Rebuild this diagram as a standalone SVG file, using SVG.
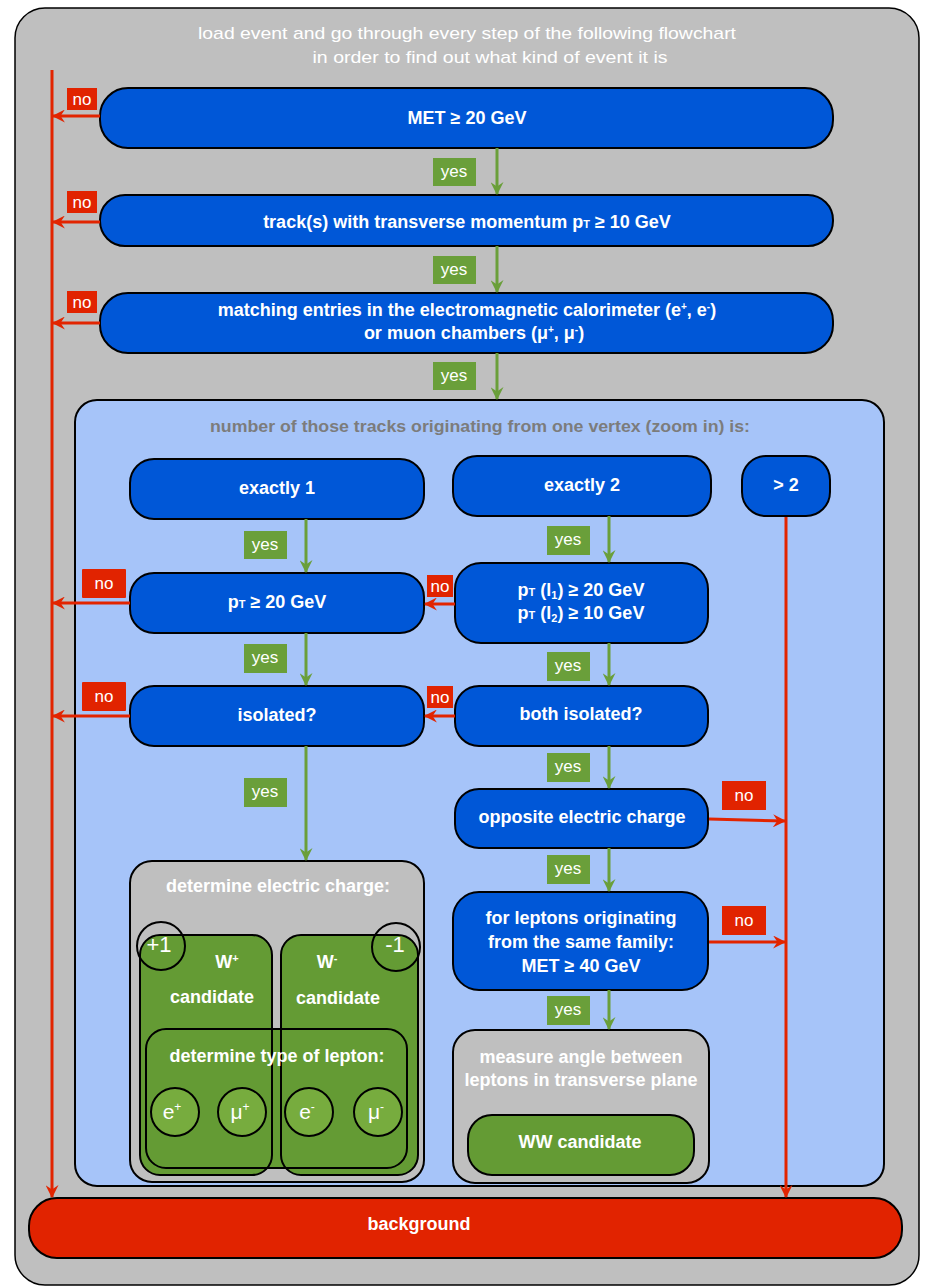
<svg xmlns="http://www.w3.org/2000/svg" width="930" height="1286" viewBox="0 0 930 1286">
<style>
text{font-family:"Liberation Sans",Arial,sans-serif;fill:#fff;text-anchor:middle}
.t{font-size:17px}
.b{font-size:18px;font-weight:bold}
.lab{font-size:17px}
.node{fill:#0057d7;stroke:#000;stroke-width:2}
.gray{fill:#bfbfbf;stroke:#000;stroke-width:2}
.grn{fill:#649b34;stroke:#000;stroke-width:2}
.red{stroke:#e22400;stroke-width:3;fill:none}
.gr{stroke:#6a9f3a;stroke-width:3;fill:none}
.nol{fill:#e12300}
.yesl{fill:#6a9f3a}
.ptitle{fill:#7c7c7c;font-size:16px;font-weight:bold}
</style>
<defs>
<marker id="aR" viewBox="0 0 12 12" refX="11" refY="6" markerWidth="13" markerHeight="13" markerUnits="userSpaceOnUse" orient="auto"><path d="M0,0 L12,6 L0,12 L4,6 z" fill="#e22400"/></marker>
<marker id="aG" viewBox="0 0 12 12" refX="11" refY="6" markerWidth="13" markerHeight="13" markerUnits="userSpaceOnUse" orient="auto"><path d="M0,0 L12,6 L0,12 L4,6 z" fill="#6a9f3a"/></marker>
</defs>

<g id="frame">
<rect x="15" y="8" width="904" height="1277" rx="30" fill="#bfbfbf" stroke="#000" stroke-width="1.5"/>
<text class="t" x="467" y="39" textLength="538" lengthAdjust="spacingAndGlyphs">load event and go through every step of the following flowchart</text>
<text class="t" x="490" y="63" textLength="355" lengthAdjust="spacingAndGlyphs">in order to find out what kind of event it is</text>
</g>

<g id="n-met"><rect class="node" x="100" y="88" width="733" height="60" rx="28"/><text class="b" x="467" y="124">MET ≥ 20 GeV</text></g>
<g id="n-track"><rect class="node" x="100" y="195" width="733" height="51" rx="25"/><text class="b" x="467" y="228">track(s) with transverse momentum p<tspan font-size="11">T</tspan> ≥ 10 GeV</text></g>
<g id="n-match"><rect class="node" x="100" y="293" width="733" height="60" rx="28"/><text class="b" x="467" y="316">matching entries in the electromagnetic calorimeter (e<tspan font-size="10" dy="-6">+</tspan><tspan dy="6">, e</tspan><tspan font-size="10" dy="-6">-</tspan><tspan dy="6">)</tspan></text><text class="b" x="474" y="339">or muon chambers (μ<tspan font-size="10" dy="-6">+</tspan><tspan dy="6">, μ</tspan><tspan font-size="10" dy="-6">-</tspan><tspan dy="6">)</tspan></text></g>

<g id="panel">
<rect x="75" y="400" width="809" height="786" rx="22" fill="#a6c4f9" stroke="#000" stroke-width="2"/>
<text class="ptitle" x="480" y="432" textLength="540" lengthAdjust="spacingAndGlyphs">number of those tracks originating from one vertex (zoom in) is:</text>
</g>

<g id="n-ex1"><rect class="node" x="130" y="459" width="294" height="60" rx="24"/><text class="b" x="277" y="494">exactly 1</text></g>
<g id="n-ex2"><rect class="node" x="453" y="456" width="258" height="60" rx="24"/><text class="b" x="582" y="491">exactly 2</text></g>
<g id="n-gt2"><rect class="node" x="742" y="456" width="88" height="60" rx="24"/><text class="b" x="786" y="491">&gt; 2</text></g>
<g id="n-pt20"><rect class="node" x="130" y="573" width="294" height="60" rx="24"/><text class="b" x="277" y="608">p<tspan font-size="11">T</tspan> ≥ 20 GeV</text></g>
<g id="n-pt2"><rect class="node" x="455" y="563" width="253" height="80" rx="26"/><text class="b" x="581" y="596">p<tspan font-size="11">T</tspan> (l<tspan font-size="11" dy="3">1</tspan><tspan dy="-3">) ≥ 20 GeV</tspan></text><text class="b" x="581" y="619">p<tspan font-size="11">T</tspan> (l<tspan font-size="11" dy="3">2</tspan><tspan dy="-3">) ≥ 10 GeV</tspan></text></g>
<g id="n-iso"><rect class="node" x="130" y="686" width="294" height="60" rx="24"/><text class="b" x="277" y="721">isolated?</text></g>
<g id="n-biso"><rect class="node" x="455" y="686" width="253" height="60" rx="24"/><text class="b" x="581" y="720">both isolated?</text></g>
<g id="n-opp"><rect class="node" x="455" y="789" width="253" height="59" rx="24"/><text class="b" x="582" y="823">opposite electric charge</text></g>
<g id="n-fam"><rect class="node" x="453" y="892" width="255" height="98" rx="26"/><text class="b" x="581" y="924">for leptons originating</text><text class="b" x="581" y="948">from the same family:</text><text class="b" x="581" y="972">MET ≥ 40 GeV</text></g>

<g id="n-charge">
<rect class="gray" x="130" y="861" width="294" height="321" rx="22"/>
<text class="b" x="278" y="892">determine electric charge:</text>
<rect x="140" y="935" width="132" height="240" rx="20" fill="#649b34"/>
<rect x="281" y="935" width="137" height="240" rx="20" fill="#649b34"/>
<rect class="grn" x="146" y="1029" width="261" height="139" rx="20"/>
<rect x="140" y="935" width="132" height="240" rx="20" fill="none" stroke="#000" stroke-width="2"/>
<rect x="281" y="935" width="137" height="240" rx="20" fill="none" stroke="#000" stroke-width="2"/>
<circle cx="161" cy="946" r="24" fill="none" stroke="#000" stroke-width="2"/>
<circle cx="396" cy="947" r="24" fill="none" stroke="#000" stroke-width="2"/>
<text x="159" y="952" font-size="22">+1</text>
<text x="395" y="952" font-size="22">-1</text>
<text class="b" x="227" y="968">W<tspan font-size="11" dy="-6">+</tspan></text>
<text class="b" x="212" y="1003">candidate</text>
<text class="b" x="327" y="968">W<tspan font-size="11" dy="-6">-</tspan></text>
<text class="b" x="338" y="1004">candidate</text>
<text class="b" x="277" y="1062">determine type of lepton:</text>
<circle cx="175" cy="1112" r="24" fill="#77ac3e" stroke="#000" stroke-width="2"/>
<circle cx="242" cy="1112" r="24" fill="#77ac3e" stroke="#000" stroke-width="2"/>
<circle cx="309" cy="1112" r="24" fill="#77ac3e" stroke="#000" stroke-width="2"/>
<circle cx="378" cy="1112" r="24" fill="#77ac3e" stroke="#000" stroke-width="2"/>
<text x="172" y="1119" font-size="21">e<tspan font-size="12" dy="-8">+</tspan></text>
<text x="240" y="1119" font-size="21">μ<tspan font-size="12" dy="-8">+</tspan></text>
<text x="307" y="1119" font-size="21">e<tspan font-size="12" dy="-8">-</tspan></text>
<text x="376" y="1119" font-size="21">μ<tspan font-size="12" dy="-8">-</tspan></text>
</g>

<g id="n-angle">
<rect class="gray" x="453" y="1030" width="256" height="153" rx="22"/>
<text class="b" x="581" y="1063">measure angle between</text>
<text class="b" x="581" y="1086">leptons in transverse plane</text>
<rect class="grn" x="468" y="1115" width="226" height="60" rx="24"/>
<text class="b" x="580" y="1148">WW candidate</text>
</g>

<g id="n-bg"><rect x="29" y="1198" width="873" height="60" rx="28" fill="#e12300" stroke="#000" stroke-width="2"/><text class="b" x="419" y="1230">background</text></g>

<g id="connectors">
<path class="red" d="M52,70 V1197" marker-end="url(#aR)"/>
<path class="red" d="M100,116 H53" marker-end="url(#aR)"/>
<path class="red" d="M100,222 H53" marker-end="url(#aR)"/>
<path class="red" d="M100,323 H53" marker-end="url(#aR)"/>
<path class="red" d="M130,603 H53" marker-end="url(#aR)"/>
<path class="red" d="M130,716 H53" marker-end="url(#aR)"/>
<path class="red" d="M455,604 H425" marker-end="url(#aR)"/>
<path class="red" d="M455,716 H425" marker-end="url(#aR)"/>
<path class="red" d="M786,517 V1197" marker-end="url(#aR)"/>
<path class="red" d="M709,819 L785,821" marker-end="url(#aR)"/>
<path class="red" d="M709,942 H785" marker-end="url(#aR)"/>
<path class="gr" d="M497,148 V194" marker-end="url(#aG)"/>
<path class="gr" d="M497,246 V292" marker-end="url(#aG)"/>
<path class="gr" d="M497,353 V399" marker-end="url(#aG)"/>
<path class="gr" d="M306,519 V572" marker-end="url(#aG)"/>
<path class="gr" d="M609,516 V562" marker-end="url(#aG)"/>
<path class="gr" d="M306,633 V685" marker-end="url(#aG)"/>
<path class="gr" d="M609,643 V685" marker-end="url(#aG)"/>
<path class="gr" d="M306,746 V860" marker-end="url(#aG)"/>
<path class="gr" d="M609,746 V788" marker-end="url(#aG)"/>
<path class="gr" d="M609,848 V891" marker-end="url(#aG)"/>
<path class="gr" d="M609,990 V1029" marker-end="url(#aG)"/>
<g id="labels">
<rect class="nol" x="67" y="88" width="30" height="22"/><text class="lab" x="82" y="105">no</text>
<rect class="nol" x="67" y="191" width="30" height="22"/><text class="lab" x="82" y="208">no</text>
<rect class="nol" x="67" y="291" width="30" height="22"/><text class="lab" x="82" y="308">no</text>
<rect class="nol" x="82" y="569" width="44" height="29" rx="1"/><text class="lab" x="104" y="589">no</text>
<rect class="nol" x="82" y="682" width="44" height="29" rx="1"/><text class="lab" x="104" y="702">no</text>
<rect class="nol" x="427" y="575" width="26" height="22"/><text class="lab" x="440" y="592">no</text>
<rect class="nol" x="427" y="686" width="26" height="22"/><text class="lab" x="440" y="703">no</text>
<rect class="nol" x="722" y="781" width="44" height="29"/><text class="lab" x="744" y="801">no</text>
<rect class="nol" x="722" y="906" width="44" height="29"/><text class="lab" x="744" y="926">no</text>
<rect class="yesl" x="433" y="158" width="43" height="28"/><text class="lab" x="454" y="177">yes</text>
<rect class="yesl" x="433" y="256" width="43" height="28"/><text class="lab" x="454" y="275">yes</text>
<rect class="yesl" x="433" y="362" width="43" height="28"/><text class="lab" x="454" y="381">yes</text>
<rect class="yesl" x="244" y="531" width="43" height="28"/><text class="lab" x="265" y="550">yes</text>
<rect class="yesl" x="244" y="644" width="43" height="29"/><text class="lab" x="265" y="663">yes</text>
<rect class="yesl" x="244" y="778" width="43" height="29"/><text class="lab" x="265" y="797">yes</text>
<rect class="yesl" x="547" y="526" width="43" height="29"/><text class="lab" x="568" y="545">yes</text>
<rect class="yesl" x="547" y="652" width="43" height="29"/><text class="lab" x="568" y="671">yes</text>
<rect class="yesl" x="547" y="753" width="43" height="29"/><text class="lab" x="568" y="772">yes</text>
<rect class="yesl" x="547" y="855" width="43" height="29"/><text class="lab" x="568" y="874">yes</text>
<rect class="yesl" x="547" y="996" width="43" height="29"/><text class="lab" x="568" y="1015">yes</text>
</g>
</g>
</svg>
